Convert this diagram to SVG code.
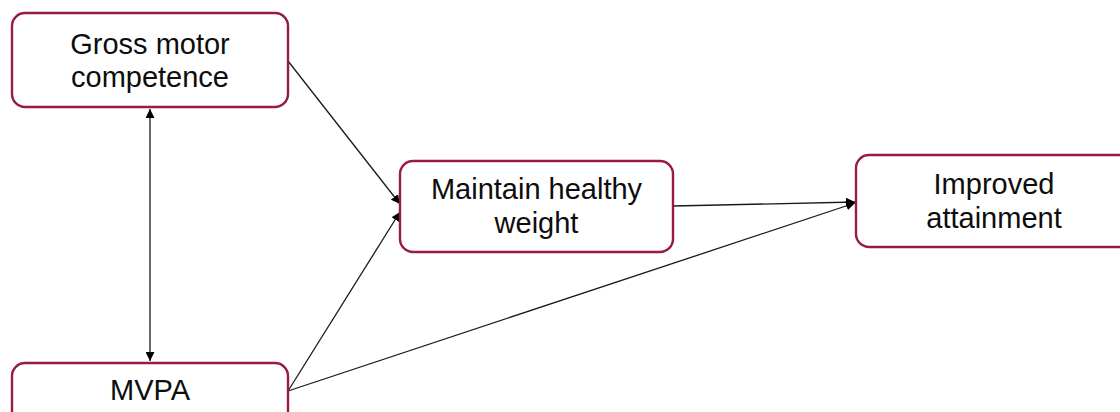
<svg xmlns="http://www.w3.org/2000/svg" width="1120" height="412" viewBox="0 0 1120 412">
  <style>
    .box { fill: #ffffff; stroke: #971a47; stroke-width: 2.4; }
    .lbl { font-family: "Liberation Sans", Arial, sans-serif; font-size: 29px; fill: #0d0d0d; text-anchor: middle; }
    .edge { stroke: #1a1a1a; stroke-width: 1.3; fill: none; marker-end: url(#arrow); }
  </style>
  <defs>
    <marker id="arrow" viewBox="0 0 10 10" refX="10" refY="5" markerWidth="9" markerHeight="9" markerUnits="userSpaceOnUse" orient="auto-start-reverse">
      <path d="M0,0 L10,5 L0,10 Z" fill="#000000"/>
    </marker>
  </defs>
  <rect width="1120" height="412" fill="#ffffff"/>

  <g id="connectors">
    <line class="edge" x1="150" y1="109" x2="150" y2="361" marker-start="url(#arrow)"/>
    <line class="edge" x1="288" y1="61" x2="400" y2="204"/>
    <line class="edge" x1="288" y1="391" x2="400" y2="212"/>
    <line class="edge" x1="673" y1="206" x2="855" y2="202"/>
    <line class="edge" x1="288" y1="391" x2="855" y2="203"/>
  </g>

  <g id="node-gross-motor">
    <rect class="box" x="12" y="13" width="276" height="94" rx="13"/>
    <text class="lbl" x="150" y="54">Gross motor</text>
    <text class="lbl" x="150" y="87">competence</text>
  </g>

  <g id="node-healthy-weight">
    <rect class="box" x="400" y="161" width="273" height="91" rx="13"/>
    <text class="lbl" x="536.5" y="199">Maintain healthy</text>
    <text class="lbl" x="536.5" y="233">weight</text>
  </g>

  <g id="node-attainment">
    <rect class="box" x="856" y="155" width="276" height="92" rx="13"/>
    <text class="lbl" x="994" y="194">Improved</text>
    <text class="lbl" x="994" y="228">attainment</text>
  </g>

  <g id="node-mvpa">
    <rect class="box" x="12" y="363" width="276" height="94" rx="13"/>
    <text class="lbl" x="150" y="400">MVPA</text>
  </g>
</svg>
